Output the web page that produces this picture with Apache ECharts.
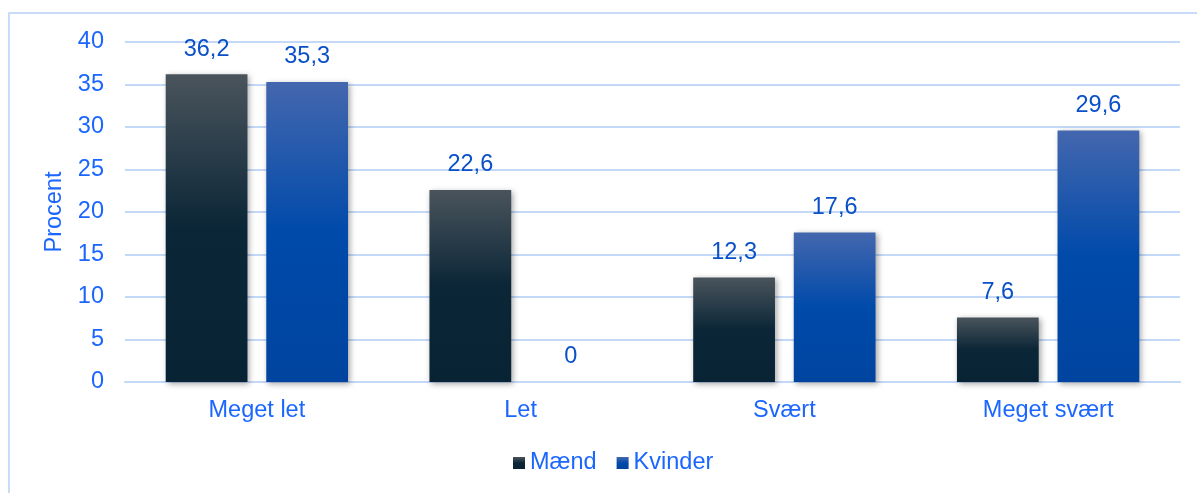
<!DOCTYPE html>
<html>
<head>
<meta charset="utf-8">
<script src="https://cdn.jsdelivr.net/npm/echarts@6/dist/echarts.min.js"></script>
<style>
  html, body { margin: 0; padding: 0; background: #fff; }
  #main { width: 1197px; height: 493px; }
</style>
</head>
<body>
<div id="main"></div>
<script>
const categories = ['Meget let', 'Let', 'Svært', 'Meget svært']
const maend = [36.2, 22.6, 12.3, 7.6]
const kvinder = [35.3, 0, 17.6, 29.6]

const chart = echarts.init(document.getElementById('main'))

const fmt = function (p) {
  return String(p.value).replace('.', ',')
}

const darkGrad = new echarts.graphic.LinearGradient(0, 0, 0, 1, [
  { offset: 0, color: '#4a545c' },
  { offset: 0.5, color: '#0b2637' },
  { offset: 1, color: '#082434' }
])
const blueGrad = new echarts.graphic.LinearGradient(0, 0, 0, 1, [
  { offset: 0, color: '#4467ae' },
  { offset: 0.5, color: '#004aaa' },
  { offset: 1, color: '#00449f' }
])

const option = {
  backgroundColor: '#ffffff',
  textStyle: { fontFamily: 'Liberation Sans, Arial, sans-serif' },
  graphic: [{
    type: 'rect',
    shape: { x: 9, y: 13, width: 1200, height: 500 },
    style: { fill: 'none', stroke: '#c8dcfa', lineWidth: 2 },
    silent: true
  }],
  grid: { left: 125, right: 17, top: 42, bottom: 111 },
  legend: {
    bottom: 13,
    left: 508,
    itemWidth: 12,
    itemHeight: 12,
    itemGap: 20,
    icon: 'rect',
    textStyle: { color: '#1a66ff', fontSize: 23.5 },
    data: ['Mænd', 'Kvinder']
  },
  xAxis: {
    type: 'category',
    data: categories,
    axisLine: { show: true, lineStyle: { color: '#c4d8f8', width: 2 } },
    axisTick: { show: false },
    axisLabel: { color: '#1a66ff', fontSize: 23.5, margin: 17 }
  },
  yAxis: {
    type: 'value',
    min: 0,
    max: 40,
    interval: 5,
    name: 'Procent',
    nameLocation: 'middle',
    nameGap: 56,
    nameTextStyle: { color: '#1a66ff', fontSize: 23.5 },
    axisLine: { show: false },
    axisTick: { show: false },
    axisLabel: { color: '#1a66ff', fontSize: 23.5, margin: 21 },
    splitLine: { lineStyle: { color: '#c4d8f8', width: 2 } }
  },
  series: [
    {
      name: 'Mænd',
      type: 'bar',
      data: maend,
      barWidth: '31%',
      barGap: '23%',
      itemStyle: {
        color: darkGrad,
        shadowColor: 'rgba(0,0,0,0.35)',
        shadowBlur: 6,
        shadowOffsetX: 2,
        shadowOffsetY: 2
      },
      label: {
        show: true,
        position: 'top',
        distance: 13,
        color: '#0a50c8',
        fontSize: 23.5,
        formatter: fmt
      }
    },
    {
      name: 'Kvinder',
      type: 'bar',
      data: kvinder,
      barWidth: '31%',
      itemStyle: {
        color: blueGrad,
        shadowColor: 'rgba(0,0,0,0.35)',
        shadowBlur: 6,
        shadowOffsetX: 2,
        shadowOffsetY: 2
      },
      label: {
        show: true,
        position: 'top',
        distance: 13,
        color: '#0a50c8',
        fontSize: 23.5,
        formatter: fmt
      }
    }
  ]
}
chart.setOption(option)
</script>
</body>
</html>
